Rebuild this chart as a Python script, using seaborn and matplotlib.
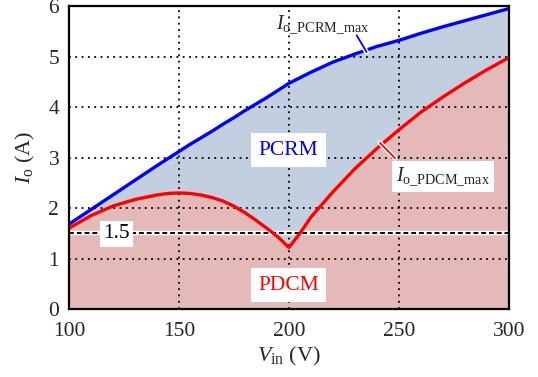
import matplotlib
matplotlib.use("Agg")
import matplotlib.pyplot as plt
import matplotlib.patheffects as pe
import seaborn as sns
import pandas as pd

# ---- data ----
vin = [100, 110, 120, 130, 140, 145, 150, 155, 160, 165, 170, 175, 180, 185, 190, 195,
       200, 205, 210, 220, 230, 240, 250, 260, 270, 280, 290, 300]
io_pcrm_max = [1.68, 1.97, 2.26, 2.55, 2.84, 2.98, 3.12, 3.26, 3.39, 3.52, 3.66, 3.79, 3.93, 4.06,
               4.19, 4.33, 4.47, 4.58, 4.69, 4.89, 5.05, 5.20, 5.32, 5.46, 5.59, 5.71, 5.83, 5.95]
io_pdcm_max = [1.60, 1.85, 2.04, 2.17, 2.26, 2.29, 2.30, 2.29, 2.26, 2.21, 2.14, 2.04, 1.91, 1.76,
               1.60, 1.43, 1.22, 1.50, 1.82, 2.32, 2.78, 3.18, 3.55, 3.90, 4.20, 4.48, 4.74, 4.98]
threshold = 1.5
xticks = [100, 150, 200, 250, 300]
yticks = [0, 1, 2, 3, 4, 5, 6]

df = pd.DataFrame({"vin": vin, "pcrm": io_pcrm_max, "pdcm": io_pdcm_max})

sns.set_style("white")
plt.rcParams["font.family"] = ["Liberation Serif", "DejaVu Serif"]
plt.rcParams["mathtext.fontset"] = "custom"
plt.rcParams["mathtext.rm"] = "Liberation Serif"
plt.rcParams["mathtext.it"] = "Liberation Serif:italic"

fig = plt.figure(figsize=(5.38, 3.77), dpi=100)
ax = fig.add_axes([0.128, 0.180, 0.818, 0.804])

blue_fill = "#c1cfe1"
red_fill = "#e5b9b8"

ax.fill_between(df["vin"], df["pdcm"], df["pcrm"], color=blue_fill, lw=0, zorder=1)
ax.fill_between(df["vin"], 0, df["pdcm"], color=red_fill, lw=0, zorder=1)

# grid
for x in xticks[1:-1]:
    ax.axvline(x, color="black", ls=(0, (1, 2.5)), lw=1.3, zorder=2)
for y in yticks[1:-1]:
    ax.axhline(y, color="black", ls=(0, (1, 2.5)), lw=1.3, zorder=2)

# threshold line: white band with black dashes
ax.axhline(threshold, color="white", lw=3.2, zorder=3)
ax.axhline(threshold, color="black", ls=(0, (2.5, 1.5)), lw=1.4, zorder=3.1)

sns.lineplot(data=df, x="vin", y="pcrm", color="#0000ff", lw=2.4, ax=ax, zorder=4)
sns.lineplot(data=df, x="vin", y="pdcm", color="#ff0000", lw=2.4, ax=ax, zorder=4)

ax.set_xlim(100, 300)
ax.set_ylim(0, 6)
ax.set_xticks(xticks)
ax.set_yticks(yticks)
ax.tick_params(axis="x", length=0, labelsize=15.5, pad=9)
ax.tick_params(axis="y", length=0, labelsize=15.5, pad=7)
for s in ax.spines.values():
    s.set_color("black")
    s.set_linewidth(1.6)
    s.set_zorder(6)

ax.set_xlabel(r"$V_{\mathrm{in}}$ (V)", fontsize=16, labelpad=3)
ax.set_ylabel(r"$I_{\mathrm{o}}$ (A)", fontsize=16, labelpad=8)

ax.text(199.8, 3.15, "PCRM", color="#0000ff", fontsize=15.5, ha="center", va="center",
        bbox=dict(boxstyle="square,pad=0.35", fc="white", ec="none"), zorder=7)
ax.text(199.8, 0.47, "PDCM", color="#ff0000", fontsize=15.5, ha="center", va="center",
        bbox=dict(boxstyle="square,pad=0.35", fc="white", ec="none"), zorder=7)
ax.text(121.8, 1.49, "1.5", color="black", fontsize=15.5, ha="center", va="center",
        bbox=dict(boxstyle="square,pad=0.15", fc="white", ec="none"), zorder=7)

# labels with leader lines
ax.text(194.0, 5.63, r"$I_{\mathrm{o\_PCRM\_max}}$", fontsize=14.5, ha="left", va="center",
        zorder=7)
ax.plot([230.8, 235.3], [5.42, 5.09], color="#0000ff", lw=1.3, zorder=5,
        path_effects=[pe.Stroke(linewidth=3.5, foreground="white"), pe.Normal()])
ax.plot([241.4, 248.2], [3.29, 2.99], color="#ff0000", lw=1.3, zorder=5,
        path_effects=[pe.Stroke(linewidth=3.5, foreground="white"), pe.Normal()])
ax.text(248.5, 2.62, r"$I_{\mathrm{o\_PDCM\_max}}$", fontsize=14.5, ha="left", va="center",
        bbox=dict(boxstyle="square,pad=0.2", fc="white", ec="none"), zorder=7)

fig.savefig("out.png", dpi=100)
